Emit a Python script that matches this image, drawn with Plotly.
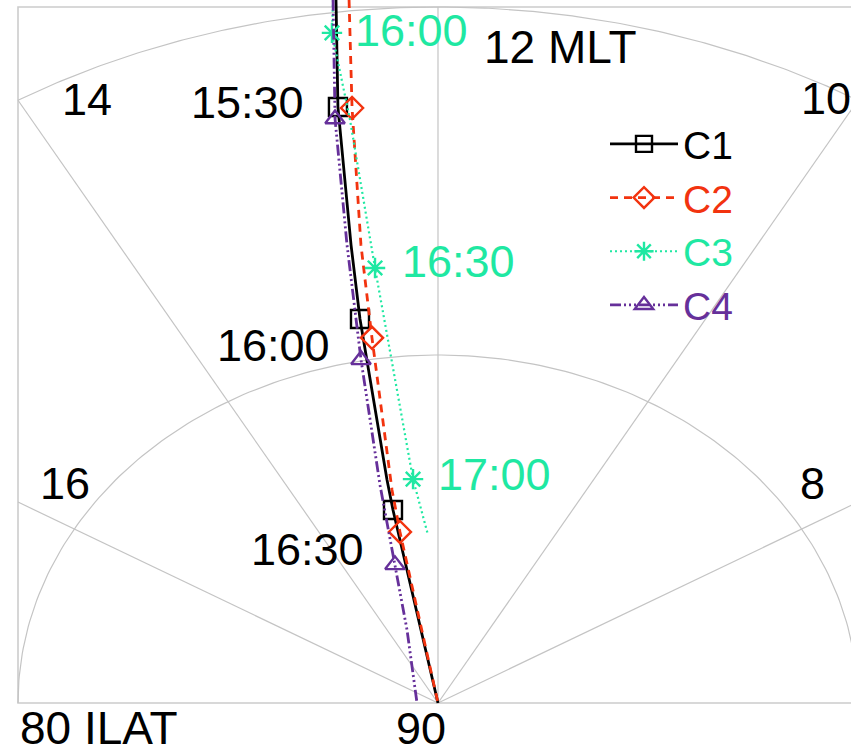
import numpy as np
import plotly.graph_objects as go

# ---------------- data (MLT in hours, ILAT in degrees) ----------------
c1_mlt  = [12.457, 12.528, 12.596, 12.637, 12.715, 12.729, 12.75]
c1_ilat = [69.65, 72.71, 76.68, 78.81, 83.48, 84.35, 90.0]
c1_mk_mlt  = [12.528, 12.637, 12.729]
c1_mk_ilat = [72.71, 78.81, 84.35]

c2_mlt  = [12.399, 12.455, 12.529, 12.568, 12.676, 12.696, 12.75]
c2_ilat = [69.69, 72.78, 76.71, 79.39, 83.78, 85.00, 90.0]
c2_mk_mlt  = [12.455, 12.568, 12.696]
c2_mk_ilat = [72.78, 79.39, 85.00]

c3_mlt  = [12.470, 12.498, 12.475, 12.459, 12.456, 12.352, 12.188]
c3_ilat = [69.64, 70.58, 73.12, 76.89, 77.41, 83.54, 85.17]
c3_mk_mlt  = [12.498, 12.456, 12.352]
c3_mk_ilat = [70.58, 77.41, 83.54]

c4_mlt  = [12.470, 12.554, 12.623, 12.702, 12.829, 12.965, 13.292, 18.0]
c4_ilat = [69.64, 73.04, 76.66, 79.97, 83.59, 85.90, 87.78, 89.5]
c4_mk_mlt  = [12.554, 12.702, 12.965]
c4_mk_ilat = [73.04, 79.97, 85.90]

c1_times = ["15:30", "16:00", "16:30"]
c3_times = ["16:00", "16:30", "17:00"]

mlt_ticks = [8, 10, 12, 14, 16]
ilat_circles = [80, 70]

# ---------------- helpers ----------------
def to_xy(mlt, ilat):
    th = np.deg2rad((np.asarray(mlt, float) - 12.0) * 15.0)
    r = 90.0 - np.asarray(ilat, float)
    return -r * np.sin(th), r * np.cos(th)

FONT = "Liberation Sans, Arial, Helvetica, sans-serif"
GRID = "#c4c4c4"
COL = {"C1": "#000000", "C2": "#f2330f", "C3": "#1fe8a2", "C4": "#66309a"}

fig = go.Figure()

# grid: ILAT circles (80 full half, 70 clipped to the box)
for lat in ilat_circles:
    r = 90 - lat
    lim = 90.0 if r <= 10 else np.rad2deg(np.arcsin(10.0 / r))
    th = np.linspace(-lim, lim, 200)
    mlt = 12 + th / 15.0
    gx, gy = to_xy(mlt, np.full_like(th, lat))
    fig.add_trace(go.Scatter(x=gx, y=gy, mode="lines", line=dict(color=GRID, width=1.2),
                             hoverinfo="skip", showlegend=False))
# grid: MLT spokes clipped to box (|x|<=10, y<=20)
for m in mlt_ticks:
    th = np.deg2rad((m - 12) * 15.0)
    rmax = 20.0 if abs(np.sin(th)) < 1e-9 else min(20.0, 10.0 / abs(np.sin(th)))
    gx, gy = to_xy([m, m], [90, 90 - rmax])
    fig.add_trace(go.Scatter(x=gx, y=gy, mode="lines", line=dict(color=GRID, width=1.2),
                             hoverinfo="skip", showlegend=False))

# frame
fig.add_shape(type="rect", x0=-10, y0=0, x1=10, y1=20, xref="x", yref="y",
              line=dict(color="#cccccc", width=1.6), layer="below")

series = [
    ("C1", c1_mlt, c1_ilat, c1_mk_mlt, c1_mk_ilat, "solid", 2.8, "square-open", 18),
    ("C2", c2_mlt, c2_ilat, c2_mk_mlt, c2_mk_ilat, "8px,6px", 2.8, "diamond-open", 17),
    ("C3", c3_mlt, c3_ilat, c3_mk_mlt, c3_mk_ilat, "2px,3px", 2.2, "asterisk-open", 17),
    ("C4", c4_mlt, c4_ilat, c4_mk_mlt, c4_mk_ilat,
     "11px,3px,2px,3px,2px,3px,2px,3px", 2.8, "triangle-up-open", 17),
]

for name, lm, li, mm, mi, dash, lw, sym, ms in series:
    col = COL[name]
    lx, ly = to_xy(lm, li)
    fig.add_trace(go.Scatter(x=lx, y=ly, mode="lines",
                             line=dict(color=col, width=lw, dash=dash),
                             showlegend=False, hoverinfo="skip"))
    mx, my = to_xy(mm, mi)
    fig.add_trace(go.Scatter(x=mx, y=my, mode="markers",
                             marker=dict(symbol=sym, size=ms, color=col,
                                         line=dict(color=col, width=2.4)),
                             showlegend=False, cliponaxis=False))
    fig.add_trace(go.Scatter(x=[None], y=[None], mode="lines+markers",
                             name=f'<span style="color:{col}">{name}</span>',
                             line=dict(color=col, width=lw, dash=dash),
                             marker=dict(symbol=sym, size=ms, color=col,
                                         line=dict(color=col, width=2.4))))

W, H = 851, 753
def ann(txt, px, py, color="black", size=45):
    fig.add_annotation(text=txt, x=px / W, y=1 - py / H, xref="paper", yref="paper",
                       xanchor="center", yanchor="middle", showarrow=False,
                       font=dict(family=FONT, size=size, color=color))

# axis labels
ann("12 MLT", 560, 47, size=46)
ann("14", 87, 99)
ann("10", 826, 98)
ann("16", 65, 483)
ann("8", 812, 483)
ann("80 ILAT", 99, 728, size=46)
ann("90", 421, 728)
# time labels
for t, (px, py) in zip(c1_times, [(247, 103), (273, 345), (307, 549)]):
    ann(t, px, py)
for t, (px, py) in zip(c3_times, [(411, 31), (458, 261), (494, 474)]):
    ann(t, px, py, color=COL["C3"])

fig.update_layout(
    width=W, height=H,
    margin=dict(l=0, r=0, t=0, b=0),
    paper_bgcolor="white", plot_bgcolor="white",
    xaxis=dict(range=[-438 / 42, 413 / 42], visible=False, fixedrange=True),
    yaxis=dict(range=[-50 / 34.8, 703 / 34.8], visible=False, fixedrange=True),
    showlegend=True,
    legend=dict(x=605 / W, y=1 - 112 / H, xanchor="left", yanchor="top",
                font=dict(family=FONT, size=39, color="black"),
                bgcolor="rgba(0,0,0,0)", itemwidth=68, tracegroupgap=0),
    font=dict(family=FONT),
)

fig.write_html("out.html")
